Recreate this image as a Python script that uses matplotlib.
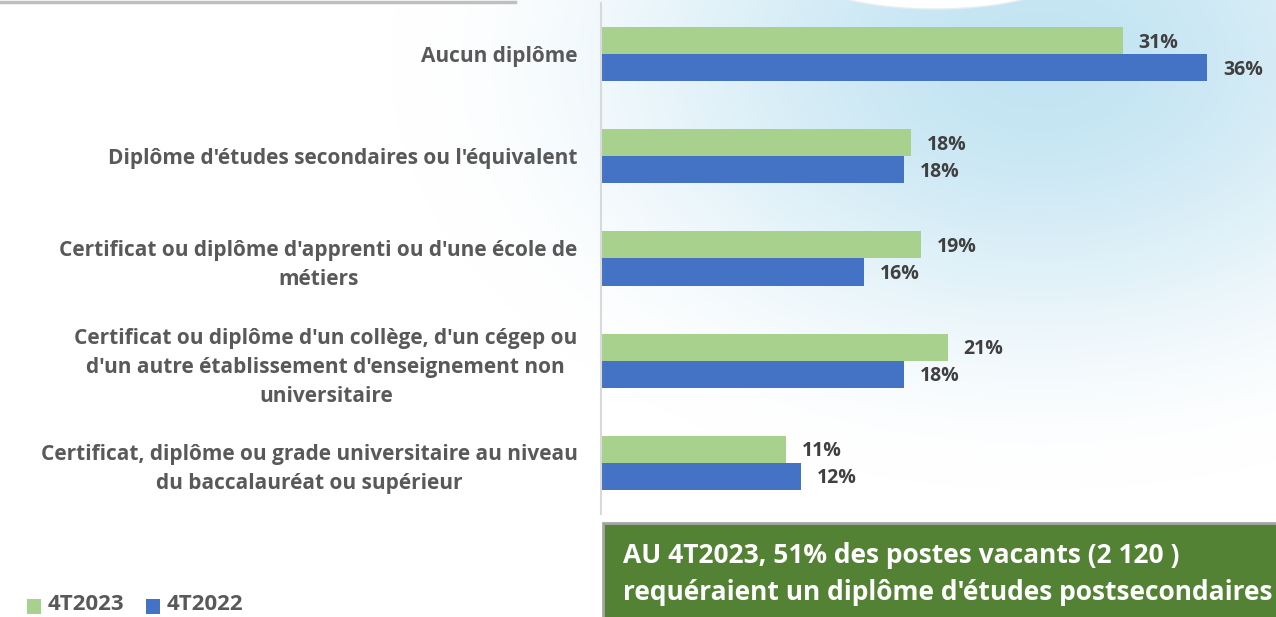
import numpy as np
import matplotlib
matplotlib.use('Agg')
import matplotlib.pyplot as plt
from matplotlib.patches import Rectangle, Ellipse

# data
categories = [
    "Aucun diplôme",
    "Diplôme d'études secondaires ou l'équivalent",
    "Certificat ou diplôme d'apprenti ou d'une école de\nmétiers",
    "Certificat ou diplôme d'un collège, d'un cégep ou\nd'un autre établissement d'enseignement non\nuniversitaire",
    "Certificat, diplôme ou grade universitaire au niveau\ndu baccalauréat ou supérieur",
]
vals_2023 = [31.0, 18.4, 19.0, 20.6, 11.0]
vals_2022 = [36.0, 18.0, 15.6, 18.0, 11.9]
series_names = ["4T2023", "4T2022"]
note = "AU 4T2023, 51% des postes vacants (2 120 )\nrequéraient un diplôme d'études postsecondaires"

GREEN = "#a9d18e"
BLUE = "#4472c4"
GREY_TXT = "#595959"
FONT = ["Open Sans", "DejaVu Sans"]

W, H = 1276, 617
fig = plt.figure(figsize=(W / 100, H / 100), dpi=100)
plt.rcParams['font.family'] = FONT

# background: soft light blue glow on the right
bg = fig.add_axes([0, 0, 1, 1], zorder=0)
xx, yy = np.meshgrid(np.arange(W), np.arange(H))
d = np.sqrt(((xx - 1040) / 650.0) ** 2 + ((yy - 60) / 430.0) ** 2)
a = np.clip(1 - d, 0, 1)
a = (3 * a ** 2 - 2 * a ** 3) * 0.9
blue = np.array([188, 225, 241]) / 255.0
img = np.ones((H, W, 3)) * (1 - a[..., None]) + blue * a[..., None]
bg.imshow(img, extent=(0, W, H, 0), aspect='auto')
bg.add_patch(Ellipse((935, -30), 270, 78, facecolor='white', edgecolor='#e4eef3', lw=1))
bg.plot([0, 515], [1.5, 1.5], color='#bfbfbf', lw=2.5)
bg.set_xlim(0, W)
bg.set_ylim(H, 0)
bg.axis('off')

# main chart
ax = fig.add_axes([601 / W, 1 - 514 / H, 675 / W, 511 / H], zorder=1)
ax.patch.set_alpha(0)
y = np.arange(len(categories))
h = 0.265
ax.barh(y - h / 2, vals_2023, height=h, color=GREEN, label=series_names[0])
ax.barh(y + h / 2, vals_2022, height=h, color=BLUE, label=series_names[1])
for i in range(len(categories)):
    ax.text(vals_2023[i] + 0.95, y[i] - h / 2 + 0.02, f"{vals_2023[i]:.0f}%", va='center', ha='left',
            fontsize=14, fontweight='bold', color='#404040')
    ax.text(vals_2022[i] + 0.95, y[i] + h / 2 + 0.02, f"{vals_2022[i]:.0f}%", va='center', ha='left',
            fontsize=14, fontweight='bold', color='#404040')

ax.set_xlim(0, 675 / 16.83)
ax.set_ylim(len(categories) - 0.5, -0.5)
ax.set_yticks(y)
ax.set_yticklabels(categories, fontsize=15, fontweight='bold', color=GREY_TXT, multialignment='center',
                   linespacing=1.5)
ax.tick_params(axis='y', length=0, pad=17)
ax.set_xticks([])
for s in ['top', 'right', 'bottom']:
    ax.spines[s].set_visible(False)
ax.spines['left'].set_color('#d9d9d9')
ax.spines['left'].set_linewidth(1.5)

# legend (drawn by hand, it sits right on the bottom edge)
leg_x = [27, 146]
for name, col, lx in zip(series_names, [GREEN, BLUE], leg_x):
    bg.add_patch(Rectangle((lx, 599), 14, 15, facecolor=col, edgecolor='none'))
    bg.text(lx + 21, 605, name, ha='left', va='center', fontsize=16, fontweight='bold', color=GREY_TXT)

# green note box
bg.add_patch(Rectangle((603, 523), 700, 120, facecolor='#548235', edgecolor='#a6a6a6', lw=2))
bg.text(623, 574, note, ha='left', va='center', color='white', fontsize=19, fontweight='bold',
        linespacing=1.45)

fig.savefig("out.png", dpi=100)
